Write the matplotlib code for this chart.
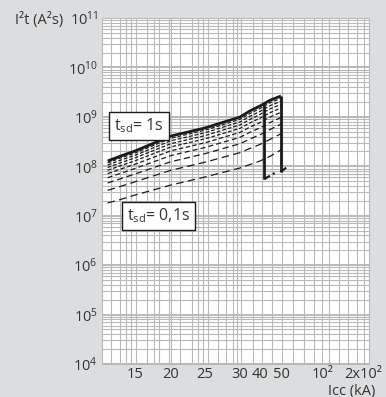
import matplotlib
matplotlib.use('Agg')
import matplotlib.pyplot as plt
import numpy as np

plt.rcParams['font.family'] = ['Open Sans', 'DejaVu Sans']
plt.rcParams['mathtext.default'] = 'regular'

# ---- data ----
icc = [11.2, 13, 15, 20, 25, 30, 35, 40, 45, 50]  # kA

i2t_10 = [1.28e8, 1.61e8, 2.04e8, 4.10e8, 5.96e8, 9.93e8, 1.32e9, 1.66e9, 2.19e9, 2.64e9]
i2t_09 = [1.17e8, 1.47e8, 1.85e8, 3.70e8, 5.37e8, 8.91e8, 1.17e9, 1.48e9, 1.95e9, 2.36e9]
i2t_08 = [1.06e8, 1.33e8, 1.67e8, 3.29e8, 4.77e8, 7.89e8, 1.03e9, 1.29e9, 1.70e9, 2.07e9]
i2t_07 = [9.45e7, 1.18e8, 1.48e8, 2.88e8, 4.18e8, 6.87e8, 8.93e8, 1.12e9, 1.47e9, 1.79e9]
i2t_06 = [8.29e7, 1.03e8, 1.29e8, 2.47e8, 3.59e8, 5.86e8, 7.57e8, 9.40e8, 1.23e9, 1.51e9]
i2t_05 = [7.10e7, 8.77e7, 1.10e8, 2.06e8, 2.99e8, 4.85e8, 6.21e8, 7.67e8, 1.00e9, 1.24e9]
i2t_04 = [5.87e7, 7.21e7, 9.02e7, 1.65e8, 2.40e8, 3.86e8, 4.88e8, 5.98e8, 7.77e8, 9.72e8]
i2t_03 = [4.60e7, 5.60e7, 6.98e7, 1.24e8, 1.80e8, 2.86e8, 3.57e8, 4.35e8, 5.61e8, 7.10e8]
i2t_02 = [3.26e7, 3.92e7, 4.86e7, 8.31e7, 1.21e8, 1.89e8, 2.30e8, 2.77e8, 3.54e8, 4.56e8]
i2t_01 = [1.81e7, 2.13e7, 2.62e7, 4.18e7, 6.07e7, 9.23e7, 1.09e8, 1.28e8, 1.61e8, 2.14e8]

drop_icc = [42, 50]
drop_top = [1.85e9, 2.64e9]
drop_bottom = [5.5e7, 7.7e7]
tail_icc = [47, 57]
tail_i2t = [7.3e7, 9.7e7]

xtick_vals = [15, 20, 25, 30, 40, 50, 100, 200]
xtick_labels = ['15', '20', '25', '30', '40', '50', '10²', '2x10²']
ytick_vals = [1e4, 1e5, 1e6, 1e7, 1e8, 1e9, 1e10, 1e11]

# non-uniform printed x axis: kA -> position on the sheet
anchor_ka = [10, 15, 20, 25, 30, 40, 50, 100, 200, 250]
anchor_pos = [99, 135, 171, 205, 240, 260, 281, 323, 363, 383]


def fwd(x):
    return np.interp(x, anchor_ka, anchor_pos)


def inv(p):
    return np.interp(p, anchor_pos, anchor_ka)


# vertical grid lines of the printed sheet (kA)
vgrid = [11.6, 12.9, 13.75, 14.4, 15.1, 16.6, 17.6, 18.4, 19.7, 20.0, 21.3, 23.1,
         24.0, 24.7, 25.4, 26.8, 28.0, 29.0, 29.6, 30.5, 36.7, 41.1, 45.9, 50.6,
         64.6, 77.7, 89.6, 98.5, 115, 140, 162, 184, 203]

BG = '#dcdddf'
GRID = '#b9b9b9'
INK = '#1a1a1a'
TXT = '#333333'

fig = plt.figure(figsize=(3.86, 3.97), dpi=100)
fig.patch.set_facecolor(BG)
ax = fig.add_axes([102 / 386, 1 - 364 / 397, 267 / 386, 346 / 397])
ax.set_facecolor('white')
ax.set_xscale('function', functions=(fwd, inv))
ax.set_yscale('log')
ax.set_xlim(inv(102), inv(369))
ax.set_ylim(1e4, 1e11)

# grid
for v in vgrid:
    ax.axvline(v, color=GRID, lw=0.8, zorder=0)
ax.yaxis.set_minor_locator(matplotlib.ticker.LogLocator(base=10, subs=np.arange(2, 10)))
ax.grid(True, which='major', axis='y', color=GRID, lw=1.4, zorder=0)
ax.grid(True, which='minor', axis='y', color=GRID, lw=0.8, zorder=0)

# curves
dashed = [(i2t_09, (3, 1.6)), (i2t_08, (3, 1.6)), (i2t_07, (3, 1.6)),
          (i2t_06, (3, 1.6)), (i2t_05, (3.5, 2)), (i2t_04, (4, 2.5)),
          (i2t_03, (5, 3)), (i2t_02, (6, 3.5)), (i2t_01, (6, 3.5))]
for ys, dash in dashed:
    ax.plot(icc, ys, color=INK, lw=0.9, linestyle=(0, dash), zorder=3)
ax.plot(icc, i2t_10, color=INK, lw=2.0, zorder=4, solid_capstyle='butt')
ax.vlines(drop_icc, drop_bottom, drop_top, color=INK, lw=2.0, zorder=4)
for x0, y0, x1, y1 in zip(drop_icc, drop_bottom, tail_icc, tail_i2t):
    ax.plot([x0, x1], [y0, y1], color=INK, lw=1.6, linestyle=(0, (3, 1.5, 1, 1.5)), zorder=4)

# labels in boxes
box = dict(boxstyle='square,pad=0.3', facecolor='white', edgecolor=INK, lw=1.0)
ax.text(12.1, 6.5e8, '$t_{sd}$= 1s', fontsize=11.5, color=TXT, ha='left', va='center',
        bbox=box, zorder=6)
ax.text(13.9, 1.0e7, '$t_{sd}$= 0,1s', fontsize=11.5, color=TXT, ha='left', va='center',
        bbox=box, zorder=6)

# ticks
ax.set_xticks(xtick_vals)
ax.set_xticklabels(xtick_labels)
ax.set_xticks([], minor=True)
ax.set_yticks(ytick_vals)
ax.set_yticklabels(['$10^{%d}$' % int(np.log10(v)) for v in ytick_vals])
ax.tick_params(axis='both', which='both', length=0, labelsize=10.5, colors=TXT)
ax.tick_params(axis='x', pad=2)
ax.tick_params(axis='y', pad=3)
for s in ax.spines.values():
    s.set_color(GRID)
    s.set_linewidth(0.8)

fig.text(63 / 386, 1 - 20 / 397, 'I²t (A²s)', fontsize=10.5, color=TXT,
         ha='right', va='center')
fig.text(352 / 386, 1 - 391 / 397, 'Icc (kA)', fontsize=10.5, color=TXT,
         ha='center', va='center')

fig.savefig('out.png', dpi=100, facecolor=BG)
